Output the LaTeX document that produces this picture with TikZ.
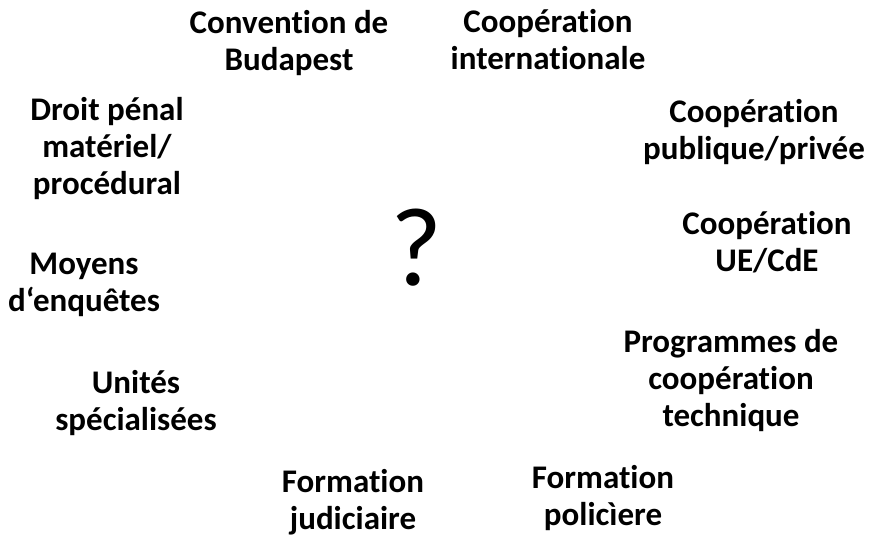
\documentclass[tikz,border=0pt]{standalone}
\usepackage{fontspec}
\setmainfont[Ligatures=NoCommon]{Carlito}

\tikzset{%
        topic/.style={
                align=center,
                inner sep=0pt,
                font=\fontsize{33}{37}\selectfont\bfseries
            }
    }

\begin{document}
\begin{tikzpicture}[x=1pt, y=-1pt]
    \useasboundingbox (0,0) rectangle (869,537);

    % centre:
        \node [font=\fontsize{112}{112}\selectfont] (q) at (416,248) {?};

    % topics round it:
        \node [topic] (bud) at (289,43) {Convention de\\Budapest};
        \node [topic] (int) at (548,40) {Coopération\\internationale};
        \node [topic] (pp) at (754,132) {Coopération\\publique/privée};
        \node [topic] (ue) at (767,242) {Coopération\\UE/CdE};
        \node [topic] (prog) at (731,381) {Programmes de\\coopération\\technique};
        \node [topic] (pol) at (603,498) {Formation\\policìere};
        \node [topic] (jud) at (353,502) {Formation\\judiciaire};
        \node [topic] (unit) at (136,403) {Unités\\spécialisées};
        \node [topic] (moy) at (84,285) {Moyens\\d‘enquêtes};
        \node [topic] (dp) at (107,149) {Droit pénal\\matériel/\\procédural};
\end{tikzpicture}
\end{document}
